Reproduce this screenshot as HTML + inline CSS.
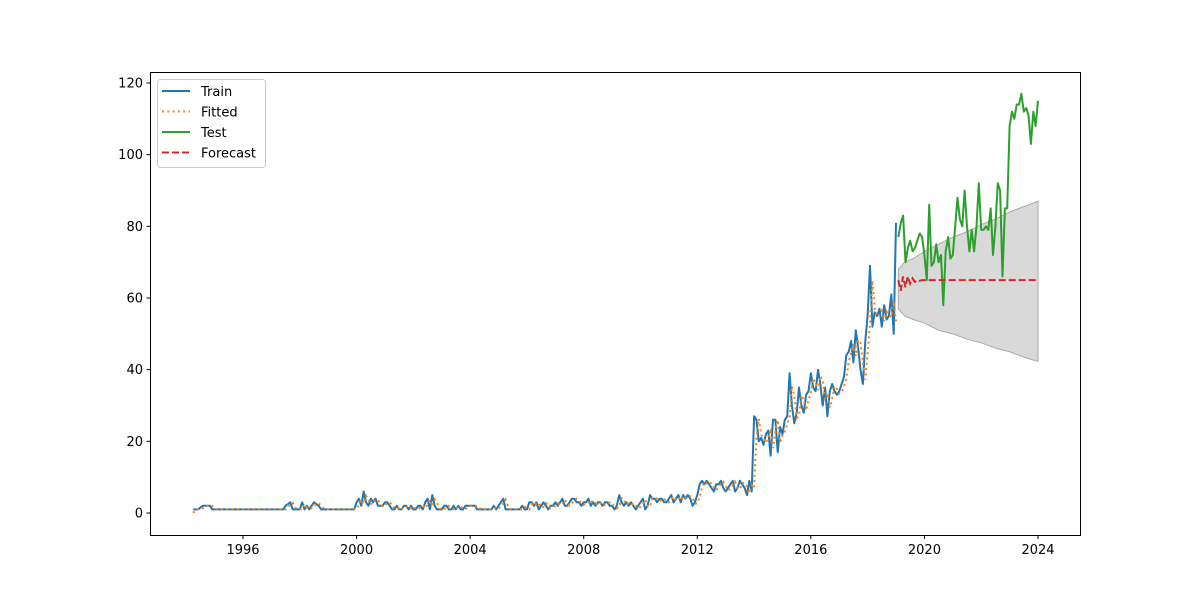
<!DOCTYPE html>
<html><head><meta charset="utf-8"><style>
body{margin:0;background:#fff}
svg text{font-family:"DejaVu Sans","Liberation Sans",sans-serif;font-size:13px;fill:#000}
</style></head><body>
<svg id="chart" width="1200" height="600">
<rect x="0" y="0" width="1200" height="600" fill="#fff"/>
<g id="plot"></g>
<rect x="150.5" y="72.5" width="930" height="463" fill="none" stroke="#000" stroke-width="1"/>
<g id="axes"></g>
<g>
<rect x="157.5" y="79.5" width="108" height="88" rx="3" fill="#fff" fill-opacity="0.8" stroke="#ccc"/>
<g><line x1="162" y1="91" x2="190" y2="91" stroke="#1f77b4" stroke-width="2"/><text x="201" y="96">Train</text></g>
<g><line x1="162" y1="111.5" x2="190" y2="111.5" stroke="#ff7f0e" stroke-width="2" stroke-dasharray="2,3.3"/><text x="201" y="116.5">Fitted</text></g>
<g><line x1="162" y1="132" x2="190" y2="132" stroke="#2ca02c" stroke-width="2"/><text x="201" y="137">Test</text></g>
<g><line x1="162" y1="152.5" x2="190" y2="152.5" stroke="#d62728" stroke-width="2" stroke-dasharray="7,3"/><text x="201" y="157.5">Forecast</text></g>
</g>
</svg>
<script>
const trainStart = 1994.25;
const train = [1,1,1,1.5,2,2,2,2,1,
1,1,1,1,1,1,1,1,1,1,1,1,
1,1,1,1,1,1,1,1,1,1,1,1,
1,1,1,1,1,1,2,2.5,3,1,1,1,
1,3,1,2,1,2,3,2.5,2,1,1,1,
1,1,1,1,1,1,1,1,1,1,1,1,
3,4,2,6,3,2,4,3,4,2,2,2,
3,3,2,1,1,2,1,1,2,2,1,2,
1,1,2,2,1,3,4,1,5,2,1,1,
1,2,2,1,1,2,1,2,1,1,2,2,
2,2,2,1,1,1,1,1,1,1,2,1,
2,3,4,1,1,1,1,1,1,1,2,1,
1,3,3,2,3,1,2,3,2,1,2,2,
3,2,3,4,2,2,3,4,4,3,3,2,
3,3,4,2,3,2,3,3,2,3,3,2,
2,1,2,5,3,2,3,2,3,2,1,2,
3,4,1,2,5,4,4,3,4,4,3,3,
4,5,3,4,5,3,5,4,5,4,2,3,
5,8,9,8,9,8,7,6,8,8,9,7,
6,7,8,9,6,7,9,8,7,5,9,6,
27,26,20,21,19,22,23,16,26,26,17,24,
22,26,27,39,30,25,28,35,30,28,33,34,
39,35,34,40,36,30,35,27,34,36,34,33,
34,36,38,44,45,48,42,51,46,40,36,48,
55,69,52,56,55,57,52,58,54,55,61,50,
81];
const testStart = 2019.083;
const test = [77,81,83,70,74,76,73,74,76,78,77,72,65,86,69,70,75,70,72,58,73,77,71,72,80,88,82,80,90,80,73,79,73,80,92,79,79,80,79,85,72,80,92,90,66,85,85,108,112,110,114,114,117,112,113,111,103,112,108,115];
const fcStart = 2019.08;
const forecast = [65,62,66,63,66,64,65.5,64.5,65,64.8,65,65,65,65,65,65,65,65,65,65,65,65,65,65,65,65,65,65,65,65,65,65,65,65,65,65,65,65,65,65,65,65,65,65,65,65,65,65,65,65,65,65,65,65,65,65,65,65,65,65];
const ciYears = [2019.08,2019.3,2019.6,2020,2020.5,2021,2021.5,2022,2022.5,2023,2023.5,2024];
const ciUpper = [68,70,71,73,75,77,78.5,80.5,82,84,85.5,87];
const ciLower = [57,55,54,53,51,50,48.5,47.5,46,45,43.5,42.3];
const xTicks = [1996,2000,2004,2008,2012,2016,2020,2024];
const yTicks = [0,20,40,60,80,100,120];

const X = y => 243 + (y-1996)*795/28;
const Y = v => 513 - v*430/120;
const NS='http://www.w3.org/2000/svg';
const plot=document.getElementById('plot'), axes=document.getElementById('axes');
function mk(tag,attrs,parent){const e=document.createElementNS(NS,tag);for(const k in attrs)e.setAttribute(k,attrs[k]);parent.appendChild(e);return e;}
function pts(start,arr){return arr.map((v,i)=>X(start+i/12).toFixed(1)+','+Y(v).toFixed(1)).join(' ');}

let d='M'+ciYears.map((t,i)=>X(t)+','+Y(ciUpper[i])).join('L');
for(let i=ciYears.length-1;i>=0;i--) d+='L'+X(ciYears[i])+','+Y(ciLower[i]);
const ci=mk('path',{d:d+'Z',fill:'#000','fill-opacity':'0.15',stroke:'#aaa','stroke-width':1},plot);



const tl=mk('polyline',{points:pts(trainStart,train),fill:'none',stroke:'#1f77b4','stroke-width':2,'stroke-linejoin':'round'},plot);



const fitted=[0].concat(train.slice(0,-1).map((v,i)=>i>0?(v*0.7+train[i-1]*0.3):v));
const fl=mk('polyline',{points:pts(trainStart,fitted),fill:'none',stroke:'#ff7f0e','stroke-width':2,'stroke-dasharray':'2,3.3'},plot);



const te=mk('polyline',{points:pts(testStart,test),fill:'none',stroke:'#2ca02c','stroke-width':2,'stroke-linejoin':'round'},plot);



const fc=mk('polyline',{points:pts(fcStart,forecast),fill:'none',stroke:'#d62728','stroke-width':2,'stroke-dasharray':'7,3'},plot);



xTicks.forEach(t=>{const x=X(t);
 const l=mk('line',{x1:x,y1:535.5,x2:x,y2:539,stroke:'#000'},axes);
 
 
 const tx=mk('text',{x:x,y:554,'text-anchor':'middle'},axes);tx.textContent=t;
 
 
});
yTicks.forEach(v=>{const y=Y(v);
 const l=mk('line',{x1:146.5,y1:y,x2:150.5,y2:y,stroke:'#000'},axes);
 
 
 const tx=mk('text',{x:143,y:y+4.5,'text-anchor':'end'},axes);tx.textContent=v;
 
 
});
</script>
</body></html>
